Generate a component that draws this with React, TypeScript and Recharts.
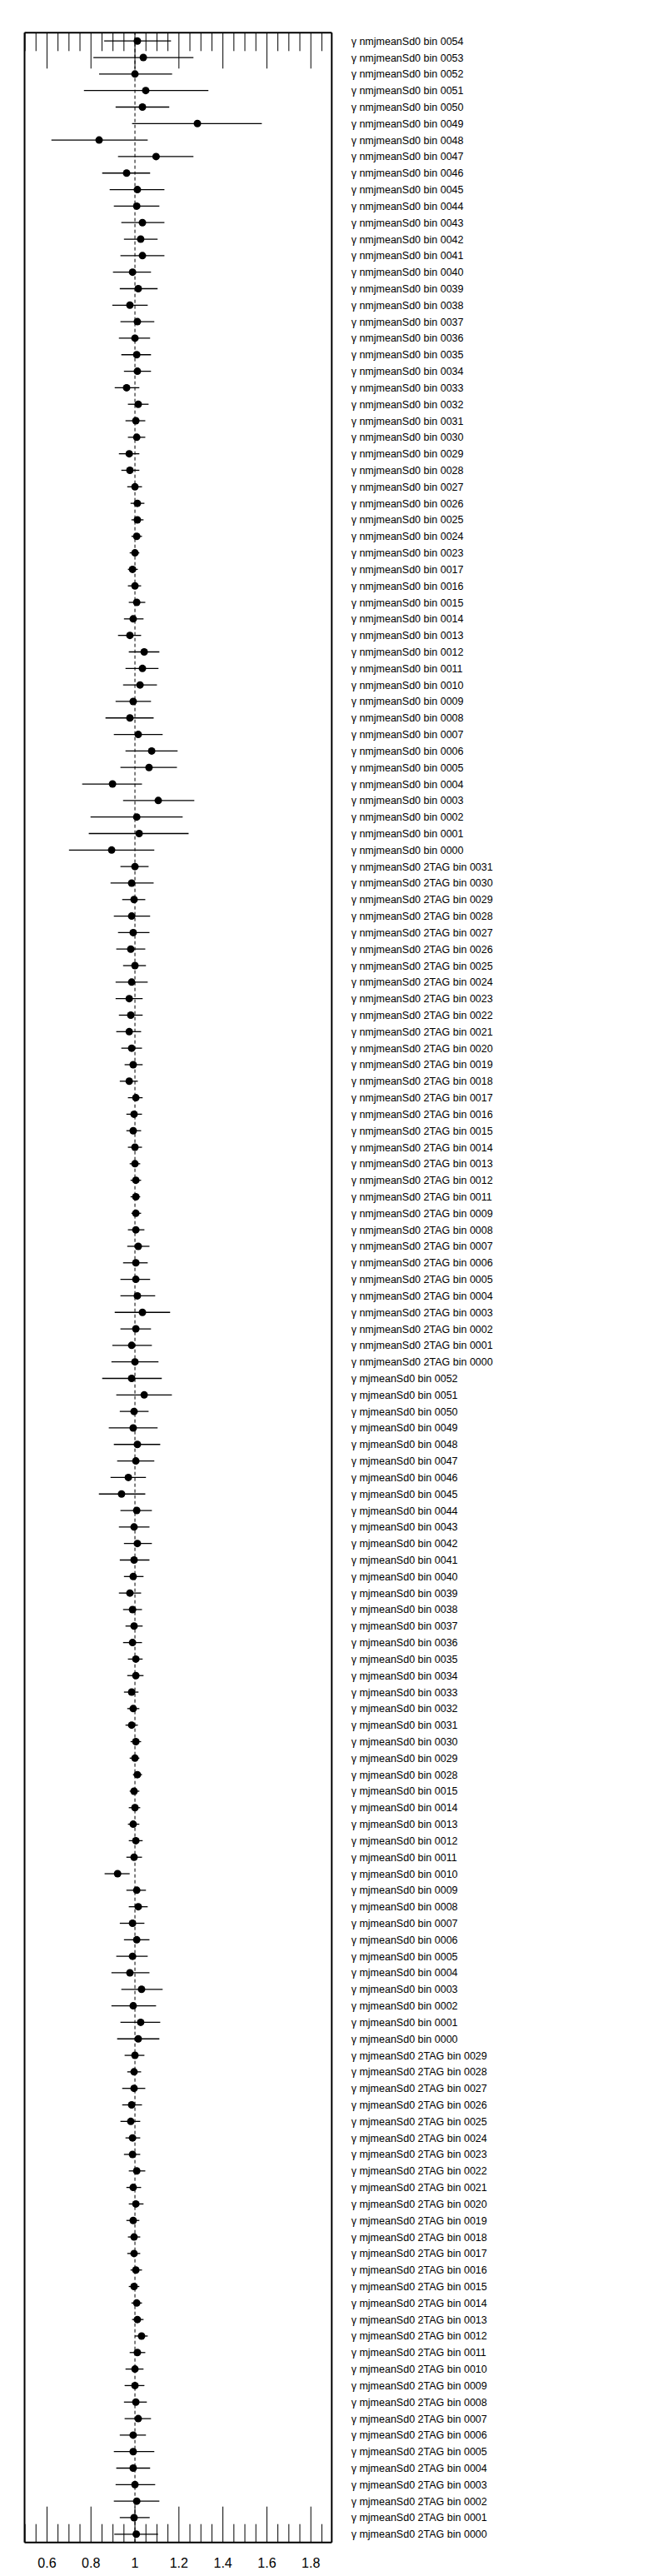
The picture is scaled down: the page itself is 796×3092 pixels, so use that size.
import React from "react";
import { ScatterChart, Scatter, XAxis, YAxis, ErrorBar, ReferenceLine } from "recharts";

// ---- categories (bin labels), top to bottom ----
const nmjBins = ["0054","0053","0052","0051","0050","0049","0048","0047","0046","0045","0044","0043","0042","0041","0040","0039","0038","0037","0036","0035","0034","0033","0032","0031","0030","0029","0028","0027","0026","0025","0024","0023","0017","0016","0015","0014","0013","0012","0011","0010","0009","0008","0007","0006","0005","0004","0003","0002","0001","0000"];
const nmj2tagBins = ["0031","0030","0029","0028","0027","0026","0025","0024","0023","0022","0021","0020","0019","0018","0017","0016","0015","0014","0013","0012","0011","0009","0008","0007","0006","0005","0004","0003","0002","0001","0000"];
const mjBins = ["0052","0051","0050","0049","0048","0047","0046","0045","0044","0043","0042","0041","0040","0039","0038","0037","0036","0035","0034","0033","0032","0031","0030","0029","0028","0015","0014","0013","0012","0011","0010","0009","0008","0007","0006","0005","0004","0003","0002","0001","0000"];
const mj2tagBins = ["0029","0028","0027","0026","0025","0024","0023","0022","0021","0020","0019","0018","0017","0016","0015","0014","0013","0012","0011","0010","0009","0008","0007","0006","0005","0004","0003","0002","0001","0000"];

// ---- values: best fit, lower edge, upper edge ----
const nmjVal = [1.011,1.038,1.000,1.049,1.034,1.284,0.837,1.096,0.962,1.011,1.008,1.034,1.026,1.034,0.989,1.015,0.977,1.011,1.000,1.008,1.011,0.962,1.015,1.004,1.008,0.974,0.977,1.000,1.011,1.011,1.008,1.000,0.989,1.000,1.008,0.992,0.977,1.042,1.034,1.023,0.992,0.977,1.015,1.076,1.064,0.898,1.106,1.008,1.019,0.894];
const nmjLo = [0.860,0.811,0.837,0.768,0.912,0.987,0.620,0.923,0.851,0.885,0.904,0.938,0.950,0.934,0.900,0.931,0.897,0.934,0.927,0.938,0.950,0.908,0.968,0.957,0.968,0.927,0.938,0.965,0.980,0.984,0.984,0.976,0.968,0.968,0.972,0.950,0.923,0.972,0.957,0.946,0.912,0.866,0.904,0.957,0.934,0.760,0.946,0.798,0.790,0.700];
const nmjHi = [1.164,1.266,1.169,1.334,1.156,1.577,1.058,1.266,1.069,1.134,1.111,1.134,1.103,1.134,1.073,1.103,1.058,1.088,1.069,1.073,1.073,1.020,1.062,1.047,1.047,1.020,1.020,1.032,1.043,1.039,1.032,1.020,1.013,1.028,1.047,1.039,1.028,1.111,1.107,1.100,1.073,1.085,1.126,1.194,1.191,1.032,1.270,1.217,1.244,1.088];

const nmj2tagVal = [1.000,0.985,0.996,0.985,0.992,0.981,1.000,0.985,0.974,0.981,0.974,0.985,0.992,0.974,1.004,0.996,0.992,1.000,1.000,1.004,1.004,1.004,1.004,1.015,1.004,1.004,1.011,1.034,1.004,0.985,1.000];
const nmj2tagLo = [0.934,0.889,0.942,0.904,0.923,0.915,0.946,0.912,0.912,0.927,0.915,0.938,0.953,0.931,0.968,0.961,0.961,0.968,0.976,0.980,0.980,0.984,0.968,0.965,0.946,0.934,0.934,0.908,0.934,0.897,0.893];
const nmj2tagHi = [1.062,1.085,1.047,1.069,1.066,1.047,1.050,1.058,1.035,1.035,1.028,1.032,1.035,1.013,1.035,1.032,1.028,1.032,1.024,1.028,1.024,1.028,1.043,1.066,1.058,1.069,1.092,1.160,1.073,1.077,1.107];

const mjVal = [0.985,1.042,0.996,0.992,1.011,1.004,0.970,0.939,1.008,0.996,1.011,0.996,0.992,0.977,0.989,0.996,0.989,1.004,1.004,0.985,0.992,0.985,1.004,1.000,1.011,0.996,1.000,0.992,1.004,0.996,0.921,1.008,1.015,0.989,1.008,0.989,0.977,1.030,0.992,1.026,1.015];
const mjLo = [0.851,0.915,0.931,0.881,0.904,0.919,0.889,0.836,0.934,0.927,0.950,0.931,0.950,0.927,0.946,0.957,0.946,0.968,0.965,0.950,0.965,0.957,0.980,0.976,0.991,0.976,0.972,0.968,0.972,0.961,0.862,0.961,0.972,0.931,0.950,0.915,0.893,0.938,0.893,0.934,0.919];
const mjHi = [1.122,1.168,1.062,1.103,1.115,1.088,1.050,1.047,1.077,1.066,1.077,1.066,1.039,1.028,1.032,1.035,1.032,1.035,1.039,1.016,1.020,1.013,1.028,1.020,1.032,1.020,1.024,1.020,1.035,1.032,0.976,1.050,1.058,1.043,1.066,1.058,1.066,1.126,1.096,1.115,1.111];

const mj2tagVal = [1.000,0.996,0.996,0.985,0.981,0.989,0.989,1.008,0.992,1.004,0.992,0.996,0.996,1.004,0.996,1.008,1.011,1.030,1.011,1.000,1.000,1.004,1.015,0.992,0.992,0.992,1.000,1.008,0.996,1.006];
const mj2tagLo = [0.953,0.965,0.942,0.942,0.934,0.957,0.950,0.972,0.961,0.972,0.961,0.968,0.965,0.980,0.972,0.984,0.987,1.000,0.976,0.957,0.953,0.950,0.953,0.931,0.904,0.915,0.912,0.904,0.931,0.906];
const mj2tagHi = [1.043,1.028,1.047,1.032,1.024,1.024,1.024,1.047,1.028,1.039,1.020,1.024,1.024,1.032,1.020,1.032,1.039,1.058,1.047,1.039,1.043,1.054,1.073,1.050,1.088,1.069,1.092,1.111,1.067,1.105];

// ---- axis tick labels ----
const majorTicks = [0.6, 0.8, 1, 1.2, 1.4, 1.6, 1.8];
const minorTicks = [0.5,0.55,0.6,0.65,0.7,0.75,0.8,0.85,0.9,0.95,1,1.05,1.1,1.15,1.2,1.25,1.3,1.35,1.4,1.45,1.5,1.55,1.6,1.65,1.7,1.75,1.8,1.85];
const xDomain = [0.498, 1.895];

type Row = { label: string; x: number; y: number; err: [number, number] };

const groups: [string, string[], number[], number[], number[]][] = [
  ["nmjmeanSd0 bin ", nmjBins, nmjVal, nmjLo, nmjHi],
  ["nmjmeanSd0 2TAG bin ", nmj2tagBins, nmj2tagVal, nmj2tagLo, nmj2tagHi],
  ["mjmeanSd0 bin ", mjBins, mjVal, mjLo, mjHi],
  ["mjmeanSd0 2TAG bin ", mj2tagBins, mj2tagVal, mj2tagLo, mj2tagHi],
];

const rows: Row[] = [];
groups.forEach(([prefix, bins, v, lo, hi]) => {
  bins.forEach((b, i) => {
    rows.push({
      label: "\u03b3 " + prefix + b,
      x: v[i],
      y: rows.length,
      err: [v[i] - lo[i], hi[i] - v[i]],
    });
  });
});
const labels = rows.map((r) => r.label);
const rowTicks = rows.map((r) => r.y);
const yDomain = [-0.5, rows.length - 0.5];

const FONT = "'Liberation Sans', Arial, Helvetica, sans-serif";
const TINY = 0.001;

// layout
const W = 788;
const H = 3084;
const M = { top: 31.3, left: 21.5, right: 397.7, bottom: 40.3 };
const PLOT_H = H - M.top - M.bottom;
const MINOR_LEN = 22;
const MAJOR_LEN = 43;

const isMajor = (v: number) => majorTicks.some((m) => Math.abs(m - v) < 1e-9);

const XTick = (p: any) => {
  const { x, y, payload } = p;
  const v = payload.value as number;
  const major = isMajor(v);
  const len = major ? MAJOR_LEN : MINOR_LEN;
  const top = y - PLOT_H;
  return (
    <g>
      <line x1={x} x2={x} y1={y} y2={y - len} stroke="#000" strokeWidth={1} />
      <line x1={x} x2={x} y1={top} y2={top + len} stroke="#000" strokeWidth={1} />
      {major && (
        <text x={x} y={y + 19} dy="0.71em" textAnchor="middle" fill="#000" fontSize={16} fontFamily={FONT}>
          {String(v)}
        </text>
      )}
    </g>
  );
};

const YLabelTick = (p: any) => {
  const { x, y, payload } = p;
  return (
    <text x={x} y={y} dy="0.36em" textAnchor="start" fill="#000" fontSize={12.5} fontFamily={FONT}>
      {labels[payload.value] ?? ""}
    </text>
  );
};

const Dot = (p: any) => <circle cx={p.cx} cy={p.cy} r={4.5} fill="#000" />;

export default function App() {
  return (
    <div style={{ width: W, height: H, fontFamily: FONT }}>
      <ScatterChart width={W} height={H} margin={M}>
        <XAxis
          xAxisId="main"
          type="number"
          dataKey="x"
          domain={xDomain}
          allowDataOverflow
          ticks={minorTicks}
          interval={0}
          height={TINY}
          tickLine={false}
          tickSize={0}
          tickMargin={0}
          axisLine={{ stroke: "#000", strokeWidth: 2 }}
          tick={XTick}
        />
        <XAxis
          xAxisId="top"
          orientation="top"
          type="number"
          domain={xDomain}
          allowDataOverflow
          height={TINY}
          tick={false}
          tickLine={false}
          axisLine={{ stroke: "#000", strokeWidth: 2 }}
        />
        <YAxis
          yAxisId="y"
          type="number"
          dataKey="y"
          domain={yDomain}
          allowDataOverflow
          reversed
          width={TINY}
          tick={false}
          tickLine={false}
          axisLine={{ stroke: "#000", strokeWidth: 2 }}
        />
        <YAxis
          yAxisId="r"
          orientation="right"
          type="number"
          domain={yDomain}
          allowDataOverflow
          reversed
          width={TINY}
          ticks={rowTicks}
          interval={0}
          tickLine={false}
          tickSize={0}
          tickMargin={23.4}
          axisLine={{ stroke: "#000", strokeWidth: 2 }}
          tick={YLabelTick}
        />
        <ReferenceLine xAxisId="main" yAxisId="y" x={1} stroke="#000" strokeWidth={1} strokeDasharray="4 3" />
        <Scatter xAxisId="main" yAxisId="y" data={rows} isAnimationActive={false} shape={Dot}>
          <ErrorBar dataKey="err" direction="x" width={0} stroke="#000" strokeWidth={1.3} isAnimationActive={false} />
        </Scatter>
      </ScatterChart>
    </div>
  );
}
